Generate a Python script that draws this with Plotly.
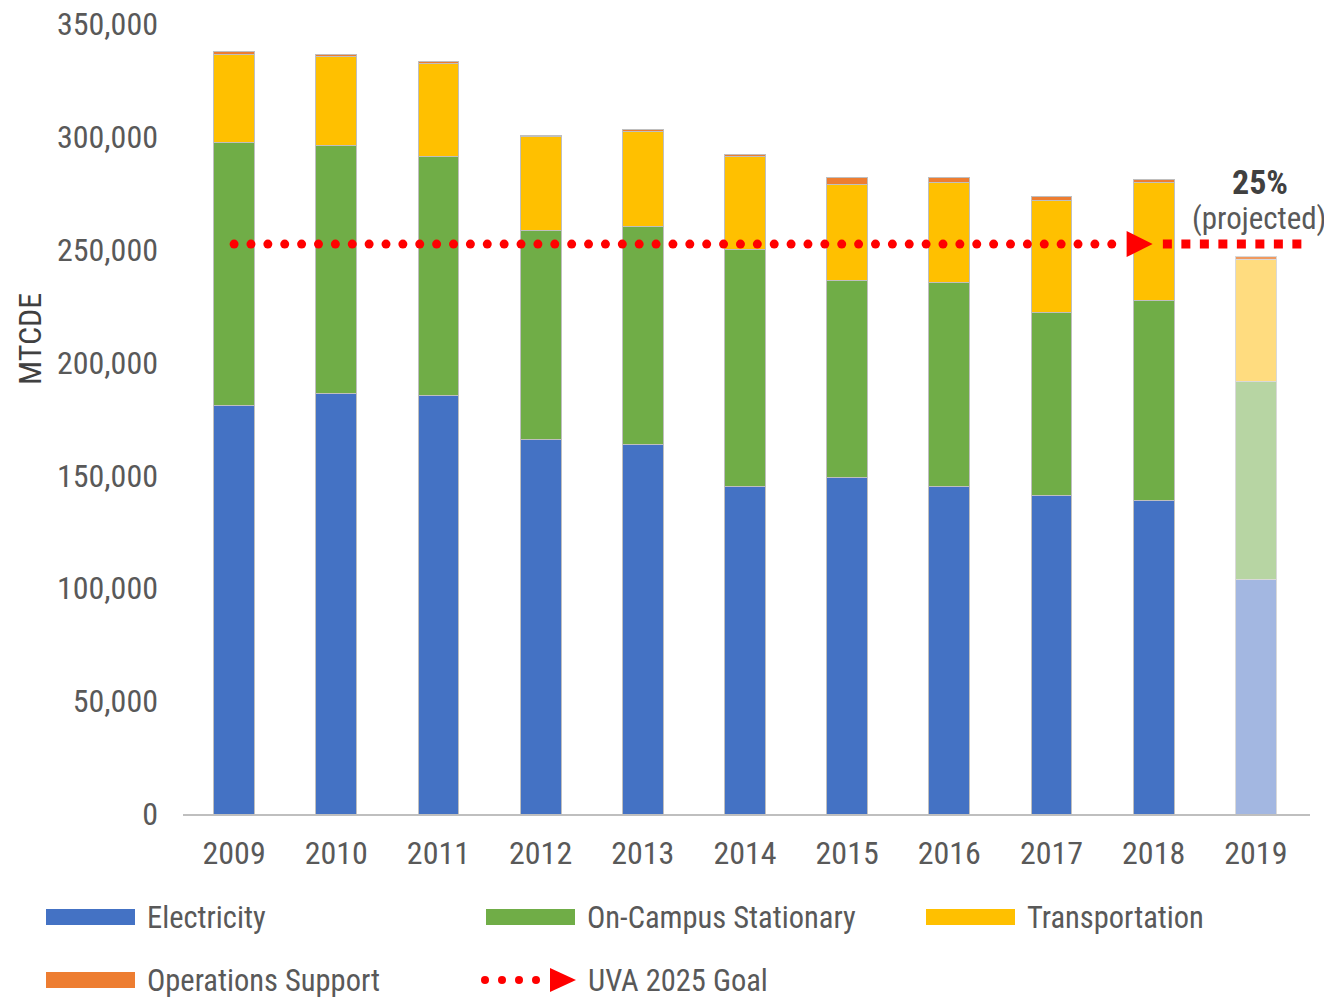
import numpy as np
import plotly.graph_objects as go

# ---------------- data ----------------
years = ["2009", "2010", "2011", "2012", "2013", "2014", "2015", "2016", "2017", "2018", "2019"]
electricity = [181200, 186500, 185200, 166100, 163900, 145300, 149300, 144900, 140900, 138700, 103700]
stationary = [116500, 109500, 106300, 92600, 96200, 104600, 86900, 90400, 81500, 88600, 88100]
transportation = [39000, 39800, 40800, 41300, 42100, 41200, 42500, 44300, 49600, 52300, 53700]
operations = [900, 900, 900, 800, 900, 1300, 3100, 2200, 1400, 1300, 1300]
goal_value = 252500
y_ticks = [0, 50000, 100000, 150000, 200000, 250000, 300000, 350000]
projected_label = "25%"
projected_note = "(projected)"

# ---------------- styling ----------------
OFF = 8  # page body margin
PAGE_W, PAGE_H = 1332, 998
PLOT_L, PLOT_R, PLOT_T, PLOT_B = 183, 1310, 24, 814  # plot area in page pixels
W, H = PAGE_W - OFF, PAGE_H - OFF
ML, MT = PLOT_L - OFF, PLOT_T - OFF
MR, MB = PAGE_W - PLOT_R, PAGE_H - PLOT_B
PW, PH = PLOT_R - PLOT_L, PLOT_B - PLOT_T
FONT = "Liberation Sans Narrow, Arial Narrow, Roboto Condensed, sans-serif"
GREY = "#595959"
DARK = "#404040"
OUTLINE = "#BFBFBF"
RED = "#FF0000"

series = [
    ("Electricity", electricity, "#4472C4", "#A3B7E1"),
    ("On-Campus Stationary", stationary, "#70AD47", "#B7D5A3"),
    ("Transportation", transportation, "#FFC000", "#FFDC7F"),
    ("Operations Support", operations, "#ED7D31", "#F09A60"),
]
n = len(years)
xpos = list(range(n))

fig = go.Figure()
for name, vals, col, light in series:
    colors = [col] * (n - 1) + [light]
    lines = [OUTLINE] * (n - 1) + ["#D9D9D9"]
    fig.add_trace(go.Bar(
        x=xpos, y=vals, name=name, width=0.4,
        marker=dict(color=colors, line=dict(color=lines, width=1)),
        showlegend=False,
    ))

# goal line: round dots, arrow head, square dashes toward projection
dot_start, dot_end, n_dots = 0.0, 8.59, 53
fig.add_trace(go.Scatter(
    x=np.linspace(dot_start, dot_end, n_dots), y=[goal_value] * n_dots,
    mode="markers", marker=dict(symbol="circle", size=9, color=RED),
    showlegend=False, hoverinfo="skip",
))
fig.add_trace(go.Scatter(
    x=[9.09, 10.55], y=[goal_value, goal_value], mode="lines",
    line=dict(color=RED, width=9, dash="9px,9.5px"),
    showlegend=False, hoverinfo="skip",
))
fig.add_trace(go.Scatter(
    x=[8.99], y=[goal_value], mode="markers",
    marker=dict(symbol="arrow-right", size=26, color=RED, line=dict(width=0)),
    showlegend=False, hoverinfo="skip", cliponaxis=False,
))

fig.add_annotation(x=10.04, y=280000, xref="x", yref="y", text=f"<b>{projected_label}</b>",
                   showarrow=False, font=dict(family=FONT, size=34, color=DARK))
fig.add_annotation(x=10.04, y=264000, xref="x", yref="y", text=projected_note,
                   showarrow=False, font=dict(family=FONT, size=31, color=GREY))


# ---------------- custom legend (page pixel -> paper) ----------------
def px(x):
    return (x - PLOT_L) / PW


def py(y):
    return (PLOT_B - y) / PH


fig.add_annotation(x=px(30), y=py(339), xref="paper", yref="paper", text="MTCDE",
                   textangle=-90, showarrow=False, xanchor="center", yanchor="middle",
                   font=dict(family=FONT, size=32, color=DARK))

legend_items = [
    ("Electricity", "#4472C4", 46, 917),
    ("On-Campus Stationary", "#70AD47", 486, 917),
    ("Transportation", "#FFC000", 926, 917),
    ("Operations Support", "#ED7D31", 46, 980),
]
shapes = []
for label, col, x0, yc in legend_items:
    shapes.append(dict(type="rect", xref="paper", yref="paper",
                       x0=px(x0), x1=px(x0 + 89), y0=py(yc + 8), y1=py(yc - 8),
                       fillcolor=col, line=dict(width=0)))
    fig.add_annotation(x=px(x0 + 99), y=py(yc), xref="paper", yref="paper", text=label,
                       xanchor="left", yanchor="middle", showarrow=False,
                       font=dict(family=FONT, size=30.5, color=GREY))
# goal legend item
for cx in [485, 502, 519, 536]:
    shapes.append(dict(type="circle", xref="paper", yref="paper",
                       x0=px(cx - 4), x1=px(cx + 4), y0=py(980 + 4), y1=py(980 - 4),
                       fillcolor=RED, line=dict(width=0)))
tri = f"M {px(550)},{py(968)} L {px(576)},{py(980)} L {px(550)},{py(992)} Z"
shapes.append(dict(type="path", xref="paper", yref="paper", path=tri,
                   fillcolor=RED, line=dict(width=0)))
fig.add_annotation(x=px(586), y=py(980), xref="paper", yref="paper", text="UVA 2025 Goal",
                   xanchor="left", yanchor="middle", showarrow=False,
                   font=dict(family=FONT, size=30.5, color=GREY))

fig.update_layout(
    width=W, height=H,
    margin=dict(l=ML, r=MR, t=MT, b=MB, autoexpand=False),
    barmode="stack",
    plot_bgcolor="white", paper_bgcolor="white",
    shapes=shapes,
    font=dict(family=FONT, size=32, color=GREY),
    xaxis=dict(
        range=[-0.5, 10.53], tickmode="array", tickvals=xpos, ticktext=years,
        showgrid=False, zeroline=False, showline=True, linecolor=OUTLINE, linewidth=2,
        ticks="", ticklabelstandoff=10, tickfont=dict(family=FONT, size=32, color=GREY),
        automargin=False,
    ),
    yaxis=dict(
        range=[0, 350000], tickmode="array", tickvals=y_ticks, tickformat=",",
        showgrid=False, zeroline=False, showline=False, ticks="",
        ticklabelstandoff=24, ticklabeloverflow="allow",
        tickfont=dict(family=FONT, size=32, color=GREY),
        automargin=False,
    ),
)

fig.write_html("out.html")
